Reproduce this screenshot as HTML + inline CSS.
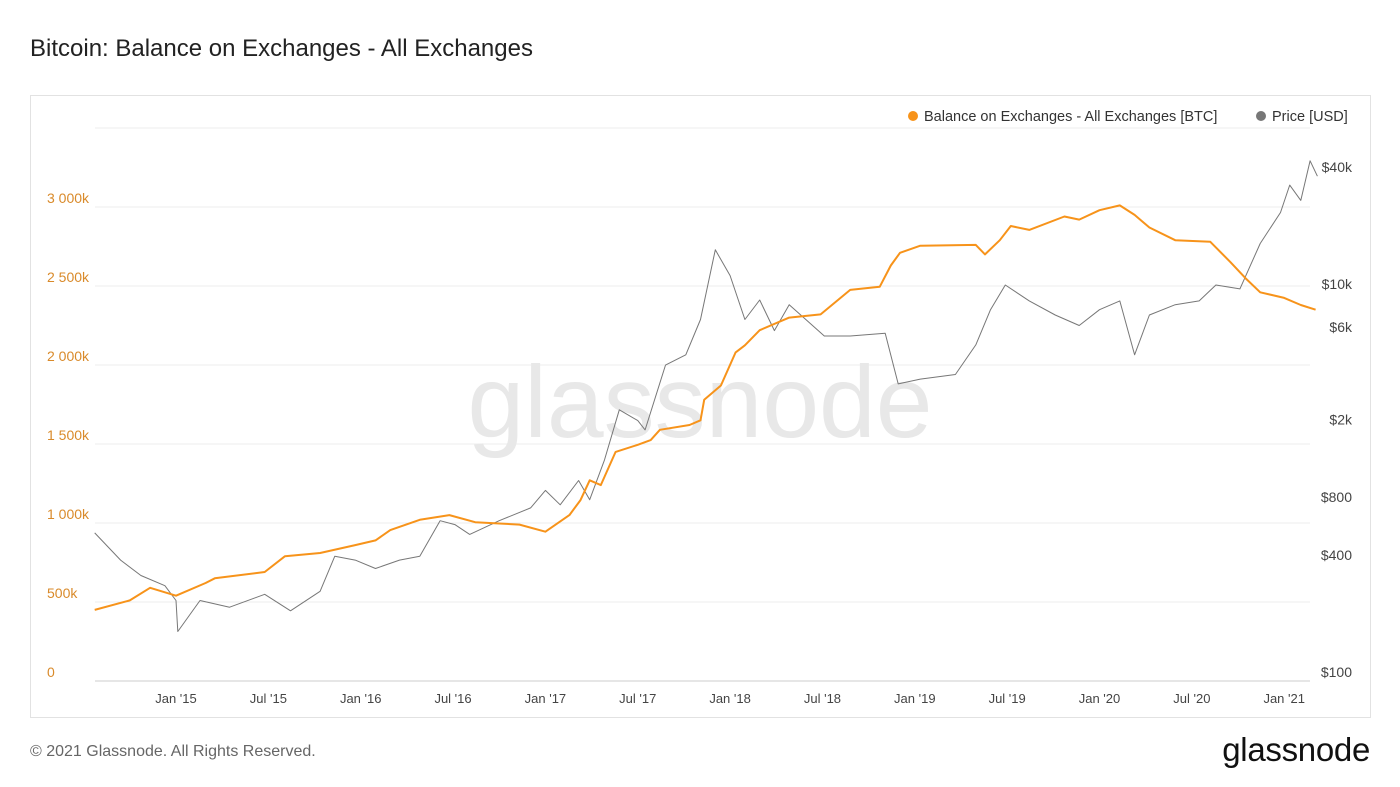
<!DOCTYPE html>
<html><head><meta charset="utf-8">
<style>
html,body{margin:0;padding:0;background:#fff;width:1400px;height:787px;overflow:hidden;font-family:"Liberation Sans",sans-serif;}
#title{position:absolute;left:30px;top:35px;font-size:24px;color:#222;}
#box{position:absolute;left:30px;top:95px;width:1339px;height:621px;border:1px solid #e2e2e2;}
#foot{position:absolute;left:30px;top:743px;font-size:16px;color:#666;}
#logo{position:absolute;right:30px;top:731px;font-size:33px;color:#111;letter-spacing:-0.3px;}
svg{position:absolute;left:0;top:0;}
</style></head><body>
<div id="title">Bitcoin: Balance on Exchanges - All Exchanges</div>
<div id="box"></div>
<svg id="chart" width="1400" height="787"></svg>
<div id="foot">© 2021 Glassnode. All Rights Reserved.</div>
<div id="logo">glassnode</div>
<script>
const balT=[2014.56,2014.75,2014.86,2015.00,2015.16,2015.21,2015.48,2015.59,2015.78,2015.97,2016.08,2016.16,2016.32,2016.48,2016.62,2016.86,2017.00,2017.13,2017.19,2017.24,2017.30,2017.38,2017.50,2017.57,2017.62,2017.78,2017.84,2017.86,2017.95,2018.03,2018.08,2018.16,2018.32,2018.49,2018.65,2018.81,2018.87,2018.92,2019.03,2019.33,2019.38,2019.46,2019.52,2019.62,2019.81,2019.89,2020.00,2020.11,2020.19,2020.27,2020.41,2020.60,2020.71,2020.79,2020.87,2021.00,2021.09,2021.17];
const balV=[450,510,590,540,620,650,690,790,810,860,890,955,1020,1050,1005,990,945,1050,1145,1270,1240,1450,1495,1525,1590,1620,1650,1780,1870,2080,2125,2220,2300,2320,2475,2495,2630,2710,2755,2760,2700,2790,2880,2855,2940,2920,2980,3010,2950,2870,2790,2780,2650,2550,2460,2425,2380,2350];
const priceT=[2014.56,2014.70,2014.81,2014.94,2015.00,2015.01,2015.13,2015.29,2015.48,2015.62,2015.78,2015.86,2015.97,2016.08,2016.21,2016.32,2016.43,2016.51,2016.59,2016.75,2016.92,2017.00,2017.08,2017.18,2017.24,2017.32,2017.40,2017.50,2017.54,2017.65,2017.76,2017.84,2017.92,2018.00,2018.08,2018.16,2018.24,2018.32,2018.41,2018.51,2018.65,2018.84,2018.91,2019.03,2019.22,2019.33,2019.41,2019.49,2019.62,2019.76,2019.89,2020.00,2020.11,2020.19,2020.27,2020.41,2020.54,2020.63,2020.76,2020.87,2020.98,2021.03,2021.09,2021.14,2021.18];
const priceV=[580,420,350,310,260,180,260,240,280,230,290,440,420,380,420,440,670,640,570,670,780,960,810,1080,860,1380,2500,2200,1970,4250,4800,7300,16700,12300,7300,9200,6400,8700,7300,6000,6000,6200,3400,3600,3800,5400,8200,11000,9100,7700,6800,8200,9100,4800,7700,8700,9100,11000,10500,18000,26000,36000,30000,48000,40000];
const leftTicks=[0,500,1000,1500,2000,2500,3000];
const leftLabels=["0","500k","1 000k","1 500k","2 000k","2 500k","3 000k"];
const rightTicks=[100,400,800,2000,6000,10000,40000];
const rightLabels=["$100","$400","$800","$2k","$6k","$10k","$40k"];
const xTicks=[2015,2015.5,2016,2016.5,2017,2017.5,2018,2018.5,2019,2019.5,2020,2020.5,2021];
const xLabels=["Jan '15","Jul '15","Jan '16","Jul '16","Jan '17","Jul '17","Jan '18","Jul '18","Jan '19","Jul '19","Jan '20","Jul '20","Jan '21"];
const X=t=>176+(t-2015)*184.7;
const YL=v=>681-v*0.158;
const YR=p=>681-(Math.log10(p)-2)*194;
const svg=document.getElementById('chart');
const NS='http://www.w3.org/2000/svg';
function mk(tag,attrs,parent){const e=document.createElementNS(NS,tag);for(const k in attrs)e.setAttribute(k,attrs[k]);(parent||svg).appendChild(e);return e;}
for(let v=0;v<=3500;v+=500){const g=mk('line',{x1:95,x2:1310,y1:YL(v),y2:YL(v),stroke:v===0?'#ccc':'#ececec','stroke-width':1});

}
const wm=mk('text',{x:700,y:437,'text-anchor':'middle','font-size':102,fill:'#e8e8e8','font-family':'Liberation Sans, sans-serif'});
wm.textContent='glassnode';


leftTicks.forEach((v,i)=>{const t=mk('text',{x:47,y:YL(v)-4,'font-size':14,fill:'#d98a2a'});t.textContent=leftLabels[i];

});
rightTicks.forEach((v,i)=>{const t=mk('text',{x:1352,y:YR(v)-4,'font-size':14,fill:'#444','text-anchor':'end'});t.textContent=rightLabels[i];

});
xTicks.forEach((v,i)=>{const t=mk('text',{x:X(v),y:703,'font-size':13,fill:'#444','text-anchor':'middle'});t.textContent=xLabels[i];

});
const pp=mk('path',{d:priceT.map((t,i)=>(i?'L':'M')+X(t).toFixed(1)+','+YR(priceV[i]).toFixed(1)).join(''),fill:'none',stroke:'#777','stroke-width':1,'stroke-linejoin':'round'});


const bp=mk('path',{d:balT.map((t,i)=>(i?'L':'M')+X(t).toFixed(1)+','+YL(balV[i]).toFixed(1)).join(''),fill:'none',stroke:'#f7931a','stroke-width':2,'stroke-linejoin':'round'});


const l1=mk('circle',{cx:913,cy:116,r:5,fill:'#f7931a'});


const lt1=mk('text',{x:924,y:121,'font-size':14.5,fill:'#333'});lt1.textContent='Balance on Exchanges - All Exchanges [BTC]';


const l2=mk('circle',{cx:1261,cy:116,r:5,fill:'#777'});


const lt2=mk('text',{x:1272,y:121,'font-size':14.5,fill:'#333'});lt2.textContent='Price [USD]';


</script>
</body></html>
